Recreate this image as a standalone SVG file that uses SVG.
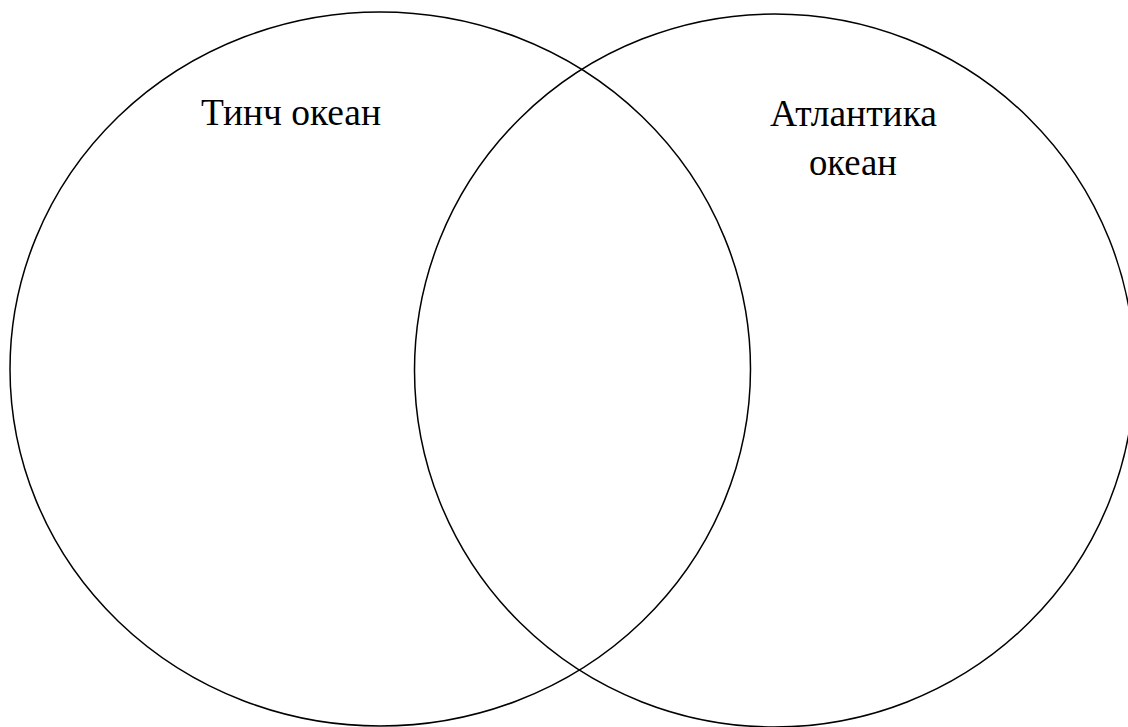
<svg xmlns="http://www.w3.org/2000/svg" width="1128" height="727" viewBox="0 0 1128 727">
<style>
.c{fill:none;stroke:#000;stroke-width:1.5}
.t{font-family:"Liberation Serif","Times New Roman",serif;font-size:37px;fill:#000;text-anchor:middle}
</style>
<rect width="1128" height="727" fill="#fff"/>
<g id="pacific">
<ellipse class="c" cx="380.25" cy="369" rx="370.25" ry="357"/>
<text class="t" x="291" y="125" textLength="180" lengthAdjust="spacingAndGlyphs">Тинч океан</text>
</g>
<g id="atlantic">
<ellipse class="c" cx="774.5" cy="370.5" rx="360" ry="356.5"/>
<text class="t" x="853.5" y="126" textLength="167" lengthAdjust="spacingAndGlyphs">Атлантика</text>
<text class="t" x="853" y="175" textLength="88" lengthAdjust="spacingAndGlyphs">океан</text>
</g>
<g id="connectors"></g>
</svg>
